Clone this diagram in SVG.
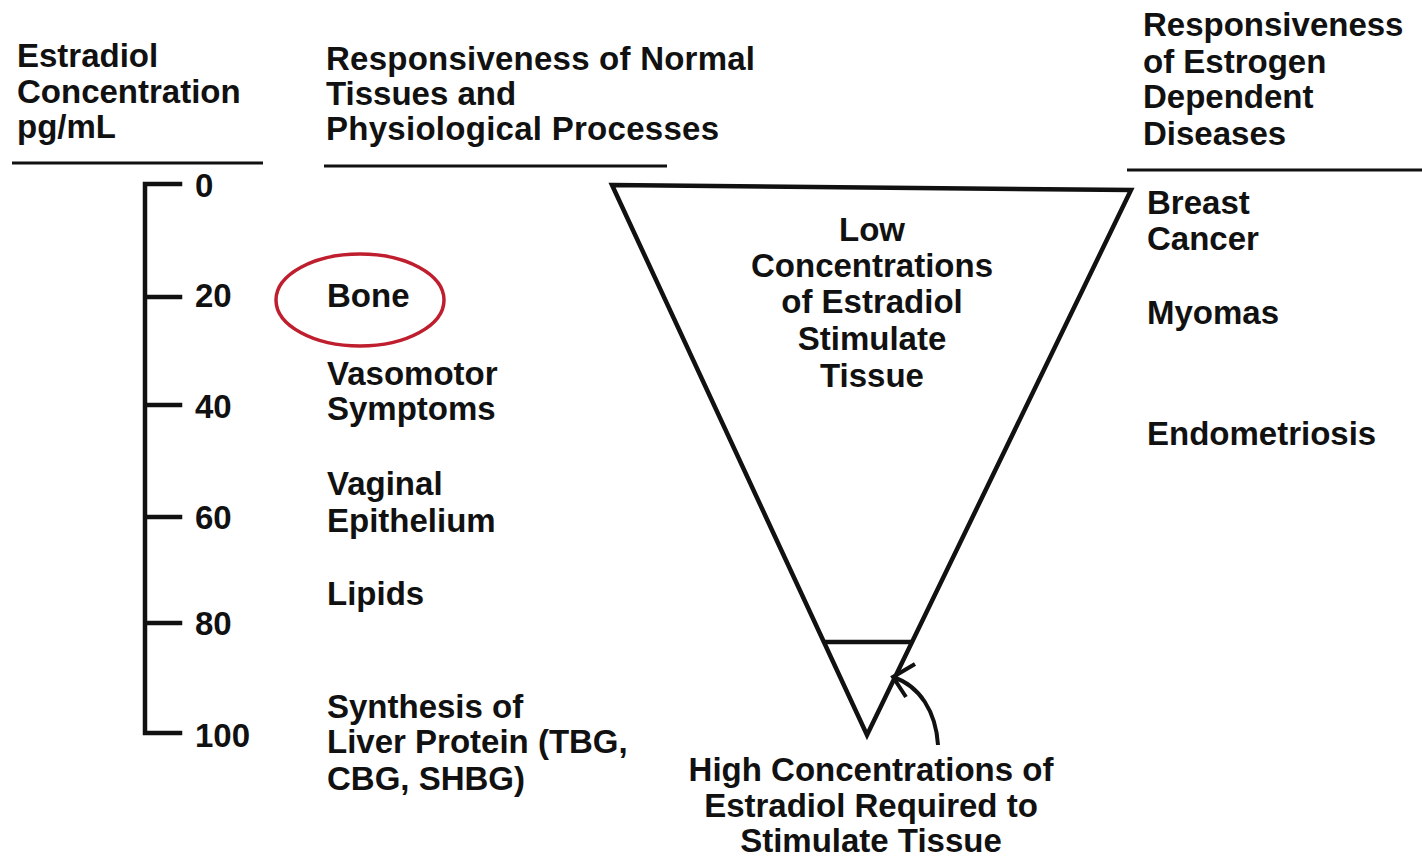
<svg xmlns="http://www.w3.org/2000/svg" width="1422" height="866" viewBox="0 0 1422 866">
<style>
text{font-family:"Liberation Sans",Arial,sans-serif;font-weight:bold;font-size:33px;fill:#111}
.c{text-anchor:middle}
.ln{stroke:#111;stroke-width:4.5;fill:none;stroke-linecap:square}
.hl{stroke:#111;stroke-width:3;fill:none}
</style>
<rect width="1422" height="866" fill="#fff"/>
<g id="header-left">
<text x="17" y="67">Estradiol</text>
<text x="17" y="103">Concentration</text>
<text x="17" y="138">pg/mL</text>
<line class="hl" x1="12" y1="163" x2="263" y2="163"/>
</g>
<g id="header-middle">
<text x="326" y="70" textLength="429" lengthAdjust="spacing">Responsiveness of Normal</text>
<text x="326" y="105">Tissues and</text>
<text x="326" y="140" textLength="393" lengthAdjust="spacing">Physiological Processes</text>
<line class="hl" x1="324" y1="166" x2="667" y2="166"/>
</g>
<g id="header-right">
<text x="1143" y="36">Responsiveness</text>
<text x="1143" y="73">of Estrogen</text>
<text x="1143" y="108">Dependent</text>
<text x="1143" y="145">Diseases</text>
<line class="hl" x1="1127" y1="170" x2="1422" y2="170"/>
</g>
<g id="scale">
<path class="ln" d="M180 184 H145 V733 H180 M145 297 H180 M145 405 H180 M145 517 H180 M145 623 H180" stroke-linecap="butt" stroke-width="4"/>
<text x="195" y="197">0</text>
<text x="195" y="307">20</text>
<text x="195" y="418">40</text>
<text x="195" y="529">60</text>
<text x="195" y="635">80</text>
<text x="195" y="747">100</text>
</g>
<g id="bone">
<text x="327" y="307">Bone</text>
<ellipse cx="360" cy="300" rx="84" ry="46" fill="none" stroke="#be1e2d" stroke-width="3.5"/>
</g>
<g id="vasomotor">
<text x="327" y="385">Vasomotor</text>
<text x="327" y="420">Symptoms</text>
</g>
<g id="vaginal">
<text x="327" y="495">Vaginal</text>
<text x="327" y="532">Epithelium</text>
</g>
<g id="lipids">
<text x="327" y="605">Lipids</text>
</g>
<g id="liver">
<text x="327" y="718">Synthesis of</text>
<text x="327" y="753">Liver Protein (TBG,</text>
<text x="327" y="790">CBG, SHBG)</text>
</g>
<g id="triangle">
<path class="ln" d="M612 185 L1131 190 L867 735 Z" stroke-linejoin="miter"/>
<line class="ln" x1="826" y1="642" x2="910" y2="642" stroke-width="3.5"/>
<text class="c" x="872" y="241">Low</text>
<text class="c" x="872" y="277">Concentrations</text>
<text class="c" x="872" y="313">of Estradiol</text>
<text class="c" x="872" y="350">Stimulate</text>
<text class="c" x="872" y="387">Tissue</text>
</g>
<g id="high-label">
<text class="c" x="871" y="781">High Concentrations of</text>
<text class="c" x="871" y="817">Estradiol Required to</text>
<text class="c" x="871" y="852">Stimulate Tissue</text>
</g>
<g id="connectors">
<path d="M938 745 C936 712 920 686 893 677" fill="none" stroke="#111" stroke-width="4"/>
<path d="M915 664 L893 677 L906 697" fill="none" stroke="#111" stroke-width="4" stroke-linejoin="miter"/>
</g>
<g id="diseases">
<text x="1147" y="214">Breast</text>
<text x="1147" y="250">Cancer</text>
<text x="1147" y="324">Myomas</text>
<text x="1147" y="445">Endometriosis</text>
</g>
</svg>
